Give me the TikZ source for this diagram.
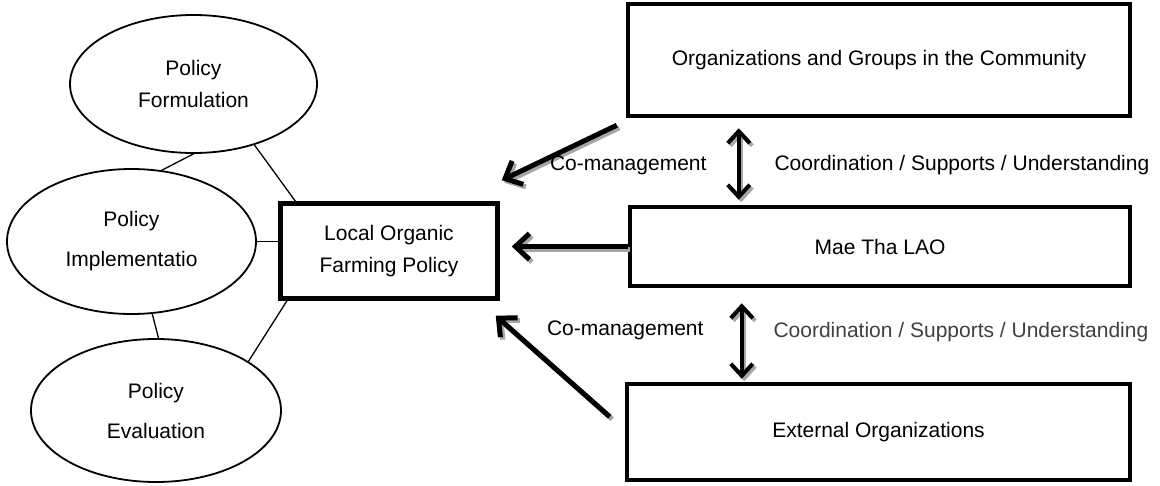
\documentclass[tikz,border=0pt]{standalone}
\usepackage{fontspec}
\setmainfont{Liberation Sans}
\usepackage{tikz}
\usetikzlibrary{shapes,arrows,positioning,calc,arrows.meta}

\tikzset{
    oval/.style={ellipse, draw, line width=1.8pt, inner sep=0pt, align=center},
    thickbox/.style={rectangle, draw, line width=4.5pt, inner sep=0pt, align=center},
    link/.style={line width=1.3pt},
    bigarrow/.style={line width=5pt, -{Straight Barb[length=14pt,width=26pt]}},
    twoway/.style={line width=4pt, {Straight Barb[length=12pt,width=22pt]}-{Straight Barb[length=12pt,width=22pt]}},
    shade/.style={draw=black!35, transform canvas={shift={(2.5pt,-2.5pt)}}},
    ink/.style={draw=black}
}

\begin{document}
\begin{tikzpicture}[x=1pt, y=-1pt, font=\fontsize{21}{32}\selectfont]
    \useasboundingbox (0,0) rectangle (1160,485);

    % policy cycle
    \node[oval, minimum width=247pt, minimum height=138pt] (form) at (193.5,84) {Policy\\Formulation};
    \node[oval, minimum width=249pt, minimum height=145pt] (impl) at (131.5,241.5) {Policy\\[8pt]Implementatio};
    \node[oval, minimum width=250pt, minimum height=143pt] (eval) at (156,410.5) {Policy\\[8pt]Evaluation};
    \node[thickbox, minimum width=217pt, minimum height=95pt] (local) at (389,251) {Local Organic\\Farming Policy};

    % actors
    \node[thickbox, minimum width=502pt, minimum height=112pt] (org) at (879,60) {Organizations and Groups in the Community};
    \node[thickbox, minimum width=500pt, minimum height=79pt] (mae) at (880,246.5) {Mae Tha LAO};
    \node[thickbox, minimum width=503pt, minimum height=96pt] (ext) at (878.5,432) {External Organizations};

    \draw[link] (form.270) -- (impl.67);
    \draw[link] (form.-45) -- (local.152);
    \draw[link] (impl.east) -- (impl.east -| local.west);
    \draw[link] (impl.-74) -- (eval.88);
    \draw[link] (eval.28) -- (local.206);

    % shadows first, then the arrows
    \foreach \look in {shade, ink} {
        \draw[bigarrow, \look] ($(org.south west)+(-9,7)$) -- ($(local.north east)+(2,-21)$);
        \draw[bigarrow, \look] (mae.west) -- ($(mae.west -| local.east)+(12,0)$);
        \draw[bigarrow, \look] ($(ext.north west)+(-15,35)$) -- ($(local.south east)+(-4,15)$);
        \draw[twoway, \look] ($(org.south west)+(113,10)$) -- ($(mae.north west)+(111,-5)$);
        \draw[twoway, \look] ($(mae.south west)+(114,15)$) -- ($(ext.north west)+(117,-3)$);
    }

    \node[anchor=east] (cm1) at (710,165) {Co-management};
    \node[anchor=west] (cs1) at (771,165) {Coordination / Supports / Understanding};
    \node[anchor=east] (cm2) at (707,330) {Co-management};
    \node[anchor=west, text=black!75] (cs2) at (770,332) {Coordination / Supports / Understanding};
\end{tikzpicture}
\end{document}
